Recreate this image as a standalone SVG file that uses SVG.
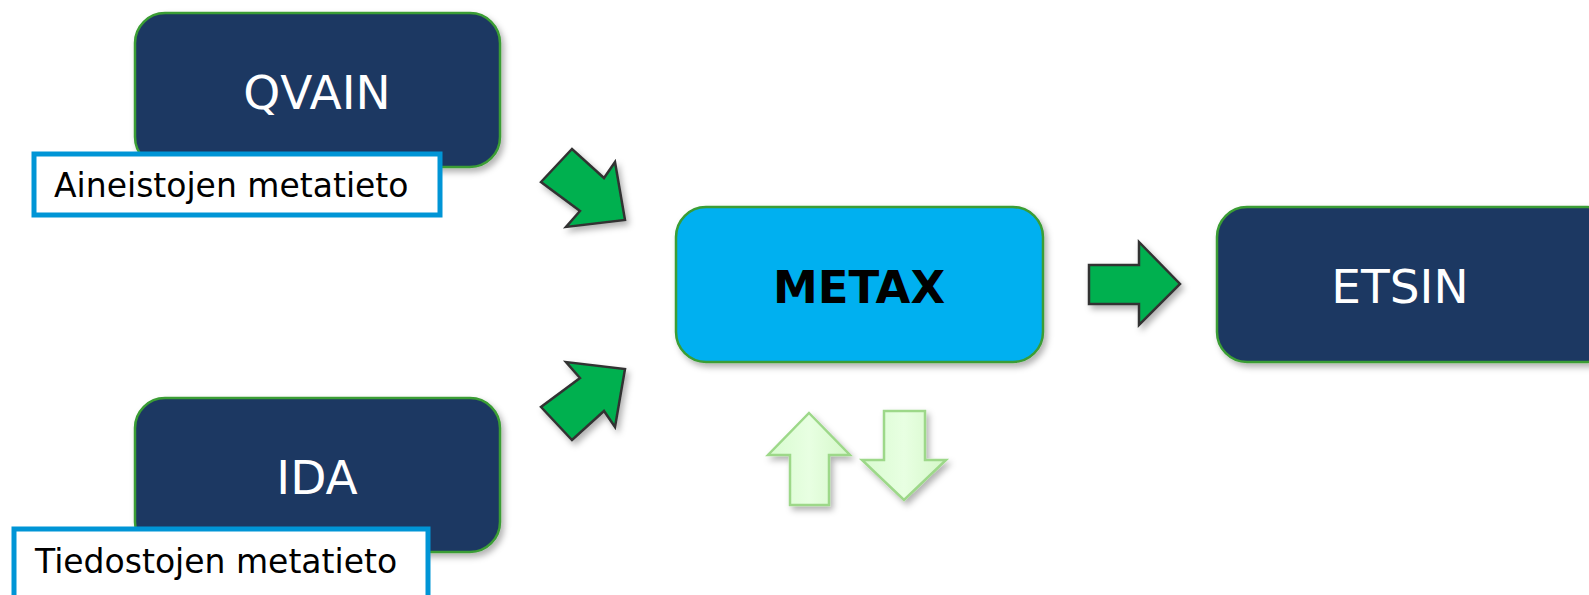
<svg xmlns="http://www.w3.org/2000/svg" width="1589" height="595" viewBox="0 0 1589 595">
<defs>
<filter id="sh" x="-10%" y="-10%" width="130%" height="140%">
<feDropShadow dx="3" dy="4" stdDeviation="3" flood-color="#000" flood-opacity="0.3"/>
</filter>
<linearGradient id="lg" x1="0" y1="0" x2="1" y2="0">
<stop offset="0" stop-color="#D8FBCF"/>
<stop offset="0.5" stop-color="#E8FFE2"/>
<stop offset="1" stop-color="#D4F7C8"/>
</linearGradient>
</defs>
<style>
.dark{fill:#1E3862;stroke:#3A9D34;stroke-width:2.5}
.cyan{fill:#00B0F0;stroke:#3A9D34;stroke-width:2.5}
.wt{fill:#FFFFFF;font-family:"DejaVu Sans",Verdana,sans-serif;font-size:47px;text-anchor:middle}
.bt{fill:#000;font-family:"DejaVu Sans",Verdana,sans-serif;font-size:45px;font-weight:bold;text-anchor:middle}
.lbl{fill:#FFFFFF;stroke:#0095D6;stroke-width:5}
.lt{fill:#000;font-family:"DejaVu Sans",Verdana,sans-serif;font-size:33px}
.ga{fill:#00B050;stroke:#333;stroke-width:2.5;stroke-linejoin:miter}
.la{fill:url(#lg);stroke:#9DD889;stroke-width:2.5}
</style>
<g id="qvain">
<rect class="dark" x="135" y="13" width="365" height="154" rx="30" filter="url(#sh)"/>
<text class="wt" x="317" y="109">QVAIN</text>
</g>
<g id="qvain-label">
<rect class="lbl" x="34" y="154" width="406" height="61"/>
<text class="lt" x="54" y="197">Aineistojen metatieto</text>
</g>
<g id="ida">
<rect class="dark" x="135" y="398" width="365" height="154" rx="30" filter="url(#sh)"/>
<text class="wt" x="317" y="494">IDA</text>
</g>
<g id="ida-label">
<rect class="lbl" x="14" y="529" width="414" height="80"/>
<text class="lt" x="35" y="573">Tiedostojen metatieto</text>
</g>
<g id="metax">
<rect class="cyan" x="676" y="207" width="367" height="155" rx="30" filter="url(#sh)"/>
<text class="bt" x="859" y="303">METAX</text>
</g>
<g id="etsin">
<rect class="dark" x="1217" y="207" width="400" height="155" rx="30" filter="url(#sh)"/>
<text class="wt" x="1400" y="303">ETSIN</text>
</g>
<g id="connectors">
<polygon class="ga" filter="url(#sh)" points="541,182 572,149 604,178 615,162 625,220 566,227 580,211"/>
<polygon class="ga" filter="url(#sh)" points="541,407 572,440 604,411 615,427 625,369 566,362 580,378"/>
<polygon class="ga" filter="url(#sh)" points="1089,265 1139,265 1139,242 1180,284 1139,325 1139,304 1089,304"/>
<polygon class="la" filter="url(#sh)" points="809,413 850,455 829,455 829,505 790,505 790,455 768,455"/>
<polygon class="la" filter="url(#sh)" points="884,411 925,411 925,460 946,460 904,500 862,460 884,460"/>
</g>
</svg>
